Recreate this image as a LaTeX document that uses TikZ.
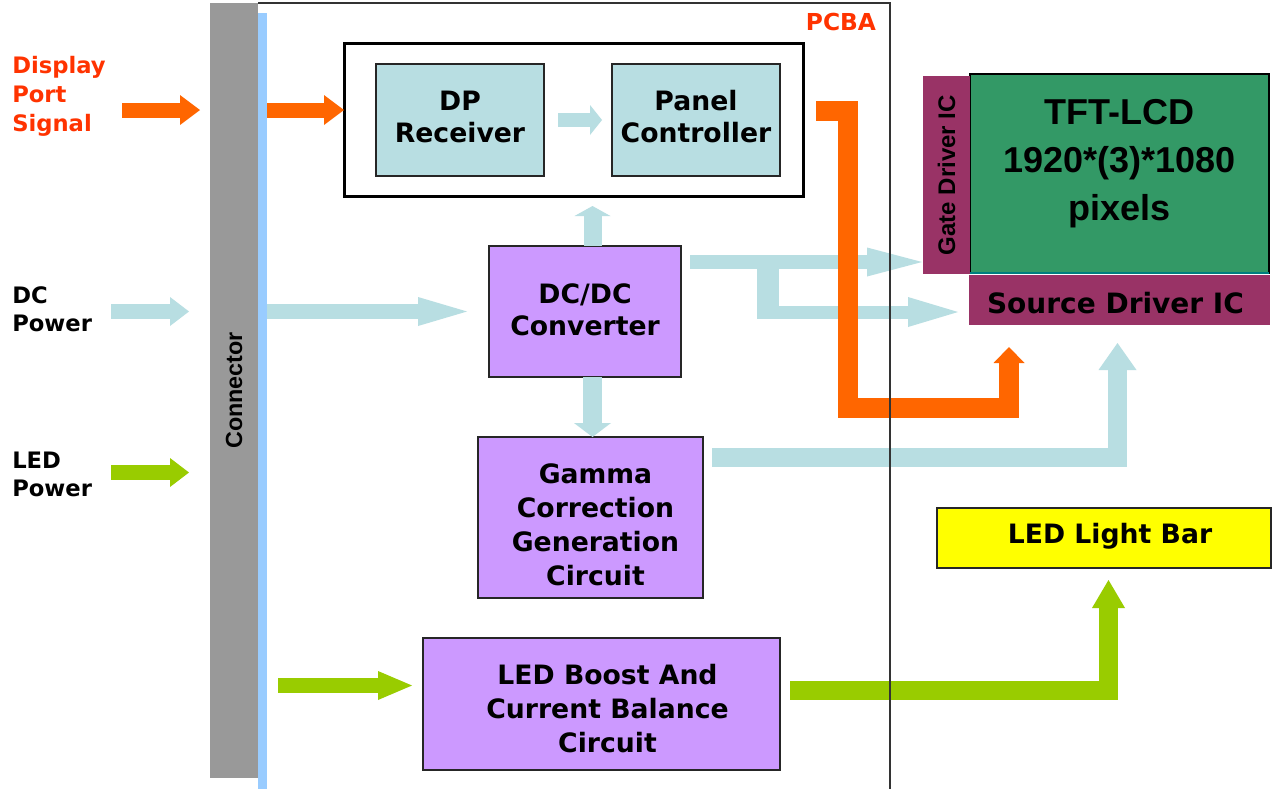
\documentclass[tikz,border=0pt]{standalone}
\usepackage{fontspec}
\setmainfont{DejaVu Sans}
\newfontfamily\libsans{Liberation Sans}
\usetikzlibrary{arrows.meta,calc}
\definecolor{lblue}{HTML}{B8DEE2}
\definecolor{orangeA}{HTML}{FF6600}
\definecolor{greenA}{HTML}{99CC00}
\definecolor{purpleA}{HTML}{CC99FF}
\definecolor{redT}{HTML}{FF3300}
\definecolor{connGray}{HTML}{999999}
\definecolor{stripBlue}{HTML}{99CCFF}
\definecolor{magentaA}{HTML}{993366}
\definecolor{tftGreen}{HTML}{339966}
\definecolor{yellowA}{HTML}{FFFF00}
\definecolor{tealLine}{HTML}{007F7F}
\newcommand\boxfont{\bfseries\fontsize{20pt}{24pt}\selectfont}
\newcommand\boxfontb{\bfseries\fontsize{20pt}{25.5pt}\selectfont}
\newcommand\lblfont{\bfseries\fontsize{17pt}{21.75pt}\selectfont}
\newcommand\lblfontb{\bfseries\fontsize{17pt}{21pt}\selectfont}
\tikzset{
  sz/.style 2 args={minimum width=#1*0.75pt,minimum height=#2*0.75pt,inner sep=0pt,outer sep=0pt},
  bx/.style={draw=black!85,line width=1.2pt},
  txt/.style={align=center,font=\boxfont,inner sep=0pt},
  fat/.style n args={4}{draw=#1,line width=#2,-{Triangle[width=#3,length=#4,line width=0pt]}},
}
\begin{document}
\begin{tikzpicture}[x=0.75pt,y=-0.75pt]
\useasboundingbox[fill=white] (0,0) rectangle (1272,789);

% connector and strip
\node[fill=stripBlue, sz={9}{776}] (strip) at (262.5,401) {};
\node[fill=connGray, sz={48}{775}, font=\libsans\bfseries\fontsize{17.5pt}{20pt}\selectfont] (conn) at (234,390.5) {\rotatebox{90}{Connector}};

% boxes
\node[draw=black, line width=2.25pt, sz={459}{153}] (outer) at (573.5,119.5) {};
\node[bx, fill=lblue, sz={168}{112}] (dprx) at (460,120) {};
\node[txt] (dprxt) at ($(dprx.center)+(0,-3)$) {DP\\Receiver};
\node[bx, fill=lblue, sz={168}{112}] (pc) at (696,120) {};
\node[txt] (pct) at ($(pc.center)+(0,-3)$) {Panel\\Controller};
\node[bx, fill=purpleA, sz={192}{131}] (dcdc) at (585,311.5) {};
\node[txt] (dcdct) at ($(dcdc.center)+(0,-2)$) {DC/DC\\Converter};
\node[bx, fill=purpleA, sz={225}{161}] (gamma) at (590.5,517.5) {};
\node[txt, font=\boxfontb] (gammat) at ($(gamma.center)+(5,7)$) {Gamma\\Correction\\Generation\\Circuit};
\node[bx, fill=purpleA, sz={357}{132}] (boost) at (601.5,704) {};
\node[txt, font=\boxfontb] (boostt) at ($(boost.center)+(6,5)$) {LED Boost And\\Current Balance\\Circuit};
\node[bx, fill=yellowA, sz={334}{60}] (bar) at (1104,538) {};
\node[txt] (bart) at ($(bar.center)+(6,-2)$) {LED Light Bar};
\node[fill=tftGreen, draw=black, line width=1.2pt, sz={299}{199}] (tft) at (1119.5,173.5) {};
\node[align=center, inner sep=0pt, font=\libsans\bfseries\fontsize{27pt}{36pt}\selectfont] (tftt) at ($(tft.center)+(0,-9.5)$) {TFT-LCD\\1920*(3)*1080\\pixels};
\draw[tealLine, line width=1.5pt] (tft.south west) -- (tft.south east);
\node[fill=magentaA, sz={47}{198}, font=\libsans\bfseries\fontsize{18pt}{20pt}\selectfont] (gate) at (946.5,175) {\rotatebox{90}{Gate Driver IC}};
\node[fill=magentaA, sz={301}{50}] (source) at (1119.5,300) {};
\node[txt, font=\bfseries\fontsize{21pt}{24pt}\selectfont] (sourcet) at ($(source.center)+(-4,3)$) {Source Driver IC};

% labels
\node[anchor=west, align=left, text=redT, font=\lblfont, inner sep=0pt] (dps) at (12,96) {Display\\Port\\Signal};
\node[anchor=west, align=left, font=\lblfontb, inner sep=0pt] (dcp) at (12,309) {DC\\Power};
\node[anchor=west, align=left, font=\lblfontb, inner sep=0pt] (ledp) at (12,474) {LED\\Power};
\node[text=redT, font=\bfseries\fontsize{17.5pt}{20pt}\selectfont] (pcba) at (841,22) {PCBA};

% input arrows
\coordinate (dpin) at (122,110);
\draw[fat={orangeA}{11.25pt}{22.5pt}{15pt}, shorten >=7.5pt] (dpin) -- (dpin -| conn.west);
\draw[fat={orangeA}{11.25pt}{22.5pt}{15pt}] (dpin -| strip.east) -- (dpin -| outer.west);
\coordinate (dcin) at (111,311.5);
\draw[fat={lblue}{11.25pt}{21.75pt}{14.25pt}, shorten >=15.75pt] (dcin) -- (dcin -| conn.west);
\draw[fat={lblue}{11.25pt}{21.75pt}{36.75pt}, shorten >=16.5pt] (dcin -| strip.east) -- (dcin -| dcdc.west);
\coordinate (ledin) at (111,472.5);
\draw[fat={greenA}{11.25pt}{21.75pt}{14.25pt}, shorten >=15.75pt] (ledin) -- (ledin -| conn.west);
\coordinate (ledb) at (278,685.5);
\draw[fat={greenA}{11.25pt}{21.75pt}{25.5pt}, shorten >=8.25pt] (ledb) -- (ledb -| boost.west);

% internal arrows
\draw[fat={lblue}{10.5pt}{22.5pt}{9pt}, shorten >=7.5pt] ($(dprx.east)+(14,0)$) -- (pc.west);
\draw[fat={lblue}{13.5pt}{27pt}{7.5pt}] ($(dcdc.north)+(7.5,0)$) -- ($(outer.south -| dcdc.north)+(7.5,10)$);
\draw[fat={lblue}{14.25pt}{27.75pt}{10.5pt}] ($(dcdc.south)+(7.5,0)$) -- ($(dcdc.south |- gamma.north)+(7.5,0)$);

% DC/DC outputs
\coordinate (dcout) at ($(dcdc.east)+(9,-49.5)$);
\draw[fat={lblue}{10.5pt}{21.75pt}{41.25pt}, shorten >=0.75pt] (dcout) -- (dcout -| gate.west);
\coordinate (br) at ($(dcout)+(78,0)$);
\draw[lblue, line width=16.5pt] (br) -- ++(0,56);
\coordinate (lo) at ($(br)+(-11,50)$);
\draw[fat={lblue}{9.75pt}{22.5pt}{37.5pt}, shorten >=8.25pt] (lo) -- (lo -| source.west);

% gamma output
\coordinate (gst) at ($(gamma.east)+(9,-60)$);
\coordinate (gtip) at ($(source.south west)+(148.5,18)$);
\draw[fat={lblue}{14.25pt}{28.5pt}{20.25pt}] (gst) -| (gtip);

% panel controller output
\coordinate (orst) at ($(pc.east)+(36,-9.5)$);
\coordinate (ortip) at ($(source.south west)+(40,22)$);
\draw[fat={orangeA}{15pt}{23.25pt}{12pt}] (orst) -- ++(32,0) -- ++(0,297) -| (ortip);

% LED boost output
\coordinate (bst) at ($(boost.east)+(10,-14)$);
\coordinate (btip) at ($(bar.south)+(4.5,12)$);
\draw[fat={greenA}{14.25pt}{24.75pt}{21pt}] (bst) -| (btip);

% PCBA frame
\coordinate (fTL) at (258,3);
\coordinate (fTR) at (890,3);
\coordinate (fBR) at (890,789);
\draw[black!80, line width=1.2pt] (fTL) -- (fTR) -- (fBR);
\end{tikzpicture}
\end{document}
